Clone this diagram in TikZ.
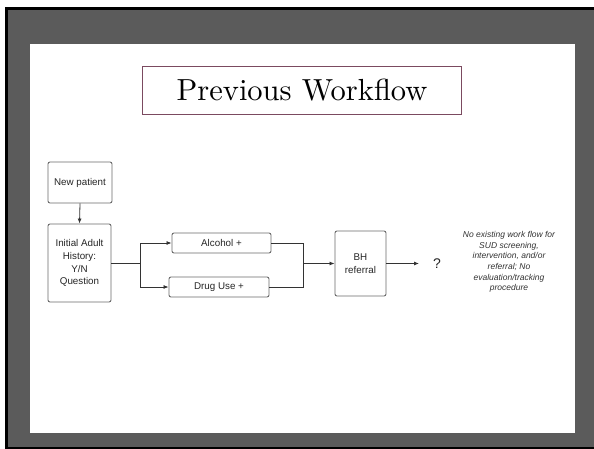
\documentclass[tikz,border=0pt]{standalone}
\usepackage{fontspec}
\newfontfamily\boxfont{Liberation Sans}
\newfontfamily\titlefont{lmroman10-regular}[Extension=.otf]
\usetikzlibrary{arrows.meta}
\definecolor{framegray}{HTML}{5B5B5B}
\definecolor{titleborder}{HTML}{7B4A60}
\definecolor{boxline}{HTML}{6A6A6A}
\definecolor{notegray}{HTML}{333333}
\tikzset{
  flowbox/.style={draw=boxline, line width=0.9pt, rounded corners=2pt, align=center,
    font=\boxfont\fontsize{9.8}{12.8}\selectfont, inner sep=0pt, text=black!85},
  conn/.style={draw=black!80, line width=0.8pt},
  arr/.style={conn, -{Latex[length=5pt,width=4pt]}},
}
\begin{document}
\begin{tikzpicture}[x=1pt,y=-1pt]
\useasboundingbox (0,0) rectangle (594,449);
% slide frame
\fill[black] (5,7) rectangle (594,449);
\fill[framegray] (8,10) rectangle (594,447);
\fill[white] (30,44) rectangle (575,433);
% title
\node[draw=titleborder, line width=1.1pt, minimum width=319pt, minimum height=48pt, inner sep=0pt,
  font=\titlefont\fontsize{30.5}{34}\selectfont] (title) at (302,90.5) {Previous Workflow};
% boxes
\node[flowbox, minimum width=64pt, minimum height=41pt] (np) at (80,182.5) {New patient};
\node[flowbox, minimum width=63pt, minimum height=78pt] (ih) at (79.5,263) {Initial Adult\\History:\\Y/N\\Question};
\node[flowbox, minimum width=99pt, minimum height=20pt] (alc) at (221.5,243) {Alcohol +};
\node[flowbox, minimum width=100pt, minimum height=20pt] (drug) at (219,287) {Drug Use +};
\node[flowbox, minimum width=51pt, minimum height=65pt] (bh) at (360.5,263.5) {BH\\referral};
\node[font=\boxfont\fontsize{14}{16}\selectfont, text=black!85, inner sep=0pt] (q) at (437,263.5) {?};
\node[font=\boxfont\itshape\fontsize{8.5}{10.6}\selectfont, text=notegray, align=center, inner sep=0pt] (note) at (509,262)
  {No existing work flow for\\SUD screening,\\intervention, and/or\\referral; No\\evaluation/tracking\\procedure};
% connectors
\coordinate (s) at (140,263);
\coordinate (m) at (303,263.5);
\coordinate (qa) at (419,263.5);
\draw[arr] (np.south) -- (ih.north);
\draw[conn] (ih.east |- s) -- (s);
\draw[arr] (s) |- (alc.west);
\draw[arr] (s) |- (drug.west);
\draw[conn] (alc.east) -| (m);
\draw[conn] (drug.east) -| (m);
\draw[arr] (m) -- (bh.west);
\draw[arr] (bh.east) -- (qa);
\end{tikzpicture}
\end{document}
